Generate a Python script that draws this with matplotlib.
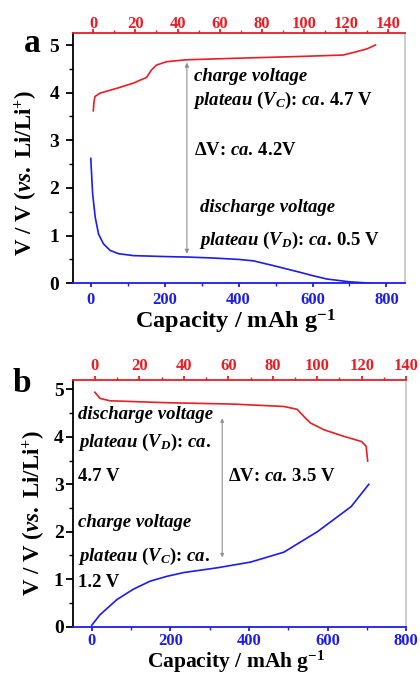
import matplotlib
matplotlib.use("Agg")
import matplotlib.pyplot as plt

plt.rcParams['font.family'] = 'Liberation Serif'
plt.rcParams['font.weight'] = 'bold'
plt.rcParams['axes.labelweight'] = 'bold'
plt.rcParams['mathtext.fontset'] = 'custom'
plt.rcParams['mathtext.rm'] = 'Liberation Serif:bold'
plt.rcParams['mathtext.it'] = 'Liberation Serif:italic:bold'
plt.rcParams['mathtext.bf'] = 'Liberation Serif:bold'

RED = '#ec1c24'
BLUE = '#1c1ced'
GRAY = '#c8c8c8'

# panel a: discharge (bottom axis, mAh/g) and charge (top axis)
a_dis_cap = [0, 1, 5, 12, 21, 34, 52, 75, 115, 200, 260, 330, 400, 440, 494, 530, 566, 600, 638, 700, 760]
a_dis_v = [2.62, 2.45, 1.87, 1.38, 1.03, 0.83, 0.69, 0.62, 0.58, 0.56, 0.55, 0.53, 0.50, 0.47, 0.37, 0.30, 0.23, 0.16, 0.09, 0.03, 0.0]
a_chg_cap = [0, 0.3, 0.8, 3.2, 11, 19, 25.3, 27.7, 30, 34.8, 44, 66, 98, 118.7, 125, 130, 134]
a_chg_v = [3.62, 3.8, 3.92, 3.99, 4.09, 4.20, 4.32, 4.48, 4.58, 4.65, 4.69, 4.72, 4.76, 4.79, 4.86, 4.92, 5.0]

# panel b: discharge (top axis) and charge (bottom axis)
b_dis_cap = [0, 2.3, 6.8, 32, 62.5, 85, 91, 94, 97, 103, 112, 120, 122, 122.7]
b_dis_v = [4.94, 4.81, 4.76, 4.72, 4.69, 4.64, 4.58, 4.43, 4.29, 4.15, 4.01, 3.90, 3.80, 3.49]
b_chg_cap = [0, 21, 64, 106, 149, 191, 234, 319, 404, 489, 574, 660, 705]
b_chg_v = [0.03, 0.25, 0.57, 0.79, 0.96, 1.06, 1.14, 1.24, 1.36, 1.57, 2.0, 2.53, 3.0]

bottom_ticks = [0, 200, 400, 600, 800]
top_ticks = [0, 20, 40, 60, 80, 100, 120, 140]
y_ticks = [0, 1, 2, 3, 4, 5]


def style_axes(ax, top, xlim, toplim, ylim, ypad, toppad, botpad, xlabsize):
    ax.set_xlim(*xlim)
    ax.set_ylim(*ylim)
    top.set_xlim(*toplim)
    ax.set_xticks(bottom_ticks)
    ax.set_xticks(range(100, 800, 200), minor=True)
    top.set_xticks(top_ticks)
    top.set_xticks(range(10, 150, 20), minor=True)
    ax.set_yticks(y_ticks)
    ax.set_yticks([0.5, 1.5, 2.5, 3.5, 4.5], minor=True)
    ax.spines['top'].set_visible(False)
    for s in ['left', 'right', 'bottom']:
        top.spines[s].set_visible(False)
    ax.spines['left'].set_color('black')
    ax.spines['right'].set_color(GRAY)
    ax.spines['bottom'].set_color(BLUE)
    top.spines['top'].set_color(RED)
    for sp in list(ax.spines.values()) + [top.spines['top']]:
        sp.set_linewidth(1.3)
    ax.tick_params(axis='y', which='major', length=5, width=1.3, labelsize=14, pad=ypad, right=False)
    ax.tick_params(axis='y', which='minor', length=3, width=1.0, right=False)
    ax.tick_params(axis='x', which='major', colors=BLUE, length=3, width=1.3, labelsize=12, pad=botpad)
    ax.tick_params(axis='x', which='minor', colors=BLUE, length=2, width=1.0)
    top.tick_params(axis='x', which='major', colors=RED, length=3, width=1.3, labelsize=12, pad=toppad)
    top.tick_params(axis='x', which='minor', colors=RED, length=2, width=1.0)
    ax.set_xlabel(r'Capacity / mAh g$^{-1}$', fontsize=xlabsize, va='top')
    ax.set_ylabel(r'V / V ($\mathit{vs.}$ Li/Li$^{+}$)', fontsize=16.5, va='center')


fig = plt.figure(figsize=(4.2, 6.76), dpi=100)
tk = dict(fontsize=13.5, ha='left', va='center')

# ---- panel a
ax1 = fig.add_axes([0.174, 0.581, 0.790, 0.370])
top1 = ax1.twiny()
ax1.plot(a_dis_cap, a_dis_v, color=BLUE, lw=1.2)
top1.plot(a_chg_cap, a_chg_v, color=RED, lw=1.2)
style_axes(ax1, top1, (-48, 850), (-9.6, 148), (0, 5.25), 5, -2.5, 3, 17.5)
ax1.yaxis.set_label_coords(-0.142, 0.44)
ax1.xaxis.set_label_coords(0.49, -0.1)
ax1.annotate('', xy=(260, 4.69), xytext=(260, 0.56),
             arrowprops=dict(arrowstyle='<|-|>', color='#909090', lw=0.8, mutation_scale=6))
ax1.text(279, 4.33, 'charge voltage', style='italic', **tk)
ax1.text(276, 3.84, r'$\mathit{plateau\ (V_C)}$: $\mathit{ca.}\,$4.7 V', **tk)
ax1.text(279, 2.79, r'ΔV: $\mathit{ca.}\,$4.2V', **tk)
ax1.text(295, 1.60, 'discharge voltage', style='italic', **tk)
ax1.text(293, 0.90, r'$\mathit{plateau\ (V_D)}$: $\mathit{ca.}\,$0.5 V', **tk)
fig.text(0.058, 0.923, 'a', fontsize=24, ha='left', va='baseline')

# ---- panel b
ax2 = fig.add_axes([0.173, 0.073, 0.794, 0.365])
top2 = ax2.twiny()
ax2.plot(b_chg_cap, b_chg_v, color=BLUE, lw=1.2)
top2.plot(b_dis_cap, b_dis_v, color=RED, lw=1.2)
style_axes(ax2, top2, (-48.5, 800), (-10, 140), (0, 5.2), 1.5, 1.5, 1.5, 15.5)
ax2.yaxis.set_label_coords(-0.116, 0.46)
ax2.xaxis.set_label_coords(0.49, -0.09)
ax2.annotate('', xy=(332, 4.45), xytext=(332, 1.40),
             arrowprops=dict(arrowstyle='<|-|>', color='#909090', lw=0.8, mutation_scale=5))
ax2.text(-35, 4.48, 'discharge voltage', style='italic', **tk)
ax2.text(-35, 3.88, r'$\mathit{plateau\ (V_D)}$: $\mathit{ca.}$', **tk)
ax2.text(-35, 3.17, '4.7 V', **tk)
ax2.text(348, 3.17, r'ΔV: $\mathit{ca.}\,$3.5 V', **tk)
ax2.text(-35, 2.19, 'charge voltage', style='italic', **tk)
ax2.text(-35, 1.47, r'$\mathit{plateau\ (V_C)}$: $\mathit{ca.}$', **tk)
ax2.text(-35, 0.92, '1.2 V', **tk)
fig.text(0.031, 0.42, 'b', fontsize=24, ha='left', va='baseline')

# tick labels bold (set after a first draw so every tick exists)
fig.canvas.draw()
for a in [ax1, top1, ax2, top2]:
    for lbl in a.get_xticklabels() + a.get_yticklabels():
        lbl.set_fontweight('bold')

fig.savefig('out.png', dpi=100)
